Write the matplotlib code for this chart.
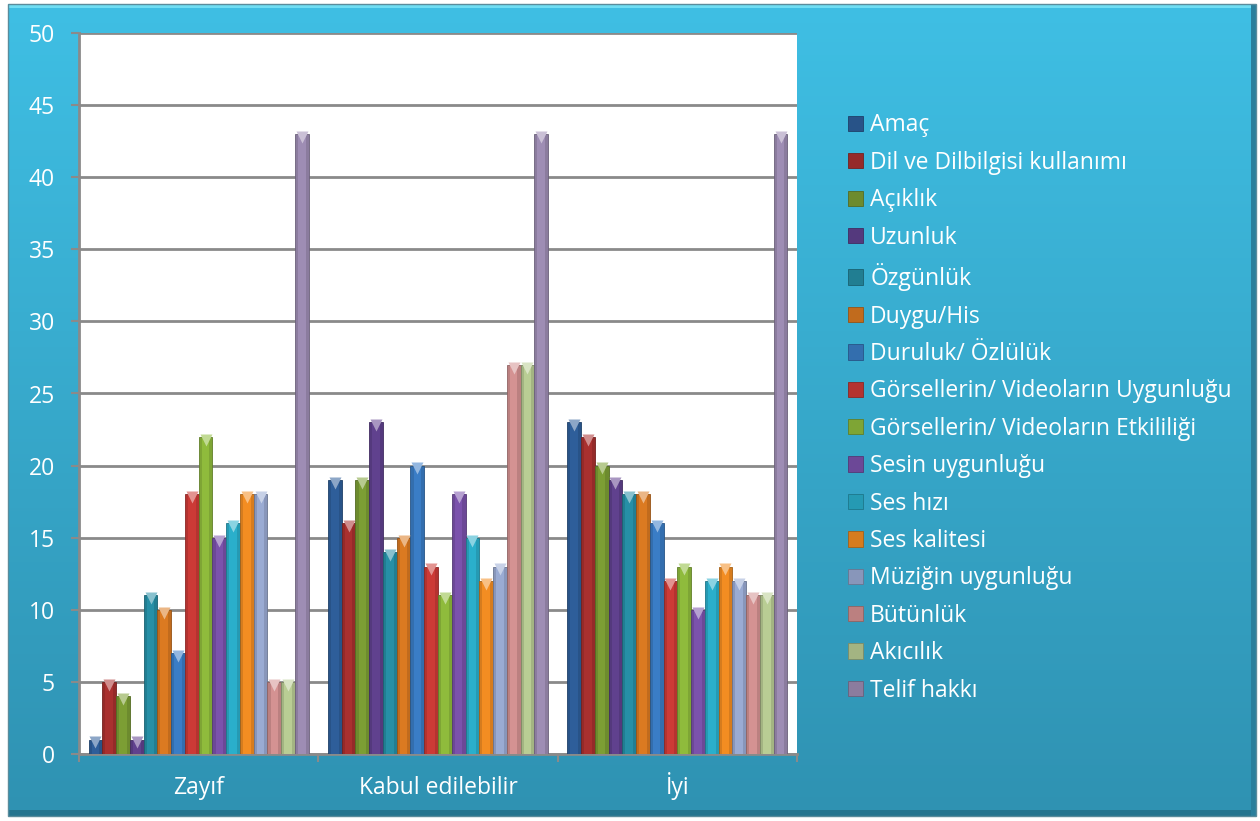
import numpy as np
import matplotlib
matplotlib.use("Agg")
import matplotlib.pyplot as plt
from matplotlib.patches import Rectangle
from matplotlib.colors import to_rgb

plt.rcParams['font.family'] = ['Open Sans', 'DejaVu Sans']

categories = ['Zayıf', 'Kabul edilebilir', 'İyi']
series = ['Amaç', 'Dil ve Dilbilgisi kullanımı', 'Açıklık', 'Uzunluk', 'Özgünlük',
          'Duygu/His', 'Duruluk/ Özlülük', 'Görsellerin/ Videoların Uygunluğu',
          'Görsellerin/ Videoların Etkililiği', 'Sesin uygunluğu', 'Ses hızı',
          'Ses kalitesi', 'Müziğin uygunluğu', 'Bütünlük', 'Akıcılık', 'Telif hakkı']
zayif = [1, 5, 4, 1, 11, 10, 7, 18, 22, 15, 16, 18, 18, 5, 5, 43]
kabul = [19, 16, 19, 23, 14, 15, 20, 13, 11, 18, 15, 12, 13, 27, 27, 43]
iyi = [23, 22, 20, 19, 18, 18, 16, 12, 13, 10, 12, 13, 12, 11, 11, 43]
colors = ['#2E5E9A', '#A9302F', '#7C9E34', '#60418E', '#268FA6', '#DB7A21',
          '#3A7DC6', '#CC3A36', '#8FBB3C', '#7B52AC', '#2AAFCB', '#F38D22',
          '#9AABD3', '#D49292', '#B9CD94', '#9E8DB4']

values = np.array([zayif, kabul, iyi])


def shade(c, f):
    r = np.array(to_rgb(c))
    if f < 1:
        return tuple(r * f)
    return tuple(r + (1 - r) * (f - 1))


fig = plt.figure(figsize=(12.6, 8.21), dpi=100)

# background box with vertical gradient
bg = fig.add_axes([0, 0, 1, 1], zorder=-5)
bg.set_xlim(0, 1260)
bg.set_ylim(821, 0)
bg.axis('off')
grad = np.linspace(0, 1, 256)[:, None]
top = np.array(to_rgb('#3FBFE4'))
bot = np.array(to_rgb('#2F92B2'))
img = top[None, None, :] * (1 - grad[..., None]) + bot[None, None, :] * grad[..., None]
bg.imshow(img, extent=(8, 1256, 816, 4), aspect='auto', zorder=0)
bg.add_patch(Rectangle((8, 4), 1248, 4, color='#6FDDF3', lw=0, zorder=1))
bg.add_patch(Rectangle((8, 810), 1248, 6, color='#26758F', lw=0, zorder=1))
bg.add_patch(Rectangle((1251, 4), 5, 812, color='#2A7F9C', lw=0, zorder=1))
bg.add_patch(Rectangle((8, 4), 1248, 812, fill=False, ec='#5A8C9C', lw=1, zorder=2))

ax = fig.add_axes([79 / 1260, 67 / 821, 718 / 1260, 721 / 821])
ax.set_facecolor('white')

n = len(series)
gw = 0.92
bw = gw / n
x = np.arange(len(categories))
for i in range(n):
    xs = x - gw / 2 + bw * (i + 0.5)
    c = colors[i]
    ax.bar(xs, values[:, i], width=bw, color=shade(c, 0.88), edgecolor=shade(c, 0.68),
           linewidth=0.6, zorder=3, label=series[i])
    ax.bar(xs, values[:, i], width=bw * 0.55, color=c, linewidth=0, zorder=4)
    ax.plot(xs, values[:, i] - 0.2, linestyle='none', marker='v', ms=9,
            mfc=shade(c, 1.45), mec='none', zorder=5)

ax.set_xlim(-0.5, 2.5)
ax.set_ylim(0, 50)
ax.set_yticks(np.arange(0, 51, 5))
ax.set_xticks(x)
ax.set_xticklabels(categories, va='baseline')
ax.set_xticks([-0.5, 0.5, 1.5, 2.5], minor=True)
ax.tick_params(axis='x', which='major', length=0, pad=29, labelsize=16.5, labelcolor='white')
ax.tick_params(axis='x', which='minor', length=6, color='#8A8A8A', width=1.5)
ax.tick_params(axis='y', length=6, color='#8A8A8A', width=1.5, pad=11.5,
               labelsize=16.5, labelcolor='white')
ax.yaxis.grid(True, color='#8A8A8A', linewidth=2, zorder=0)
ax.set_axisbelow(True)
for s in ['top', 'right']:
    ax.spines[s].set_visible(False)
for s in ['left', 'bottom']:
    ax.spines[s].set_color('#8A8A8A')
    ax.spines[s].set_linewidth(2)

handles, labels = ax.get_legend_handles_labels()
leg = fig.legend(handles, labels, loc='center left', bbox_to_anchor=(0.6733, 0.503),
                 frameon=False, fontsize=16.5, labelspacing=0.585, handlelength=0.65,
                 handleheight=0.65, handletextpad=0.3, borderpad=0, borderaxespad=0)
for t in leg.get_texts():
    t.set_color('white')

fig.savefig('out.png', dpi=100)
